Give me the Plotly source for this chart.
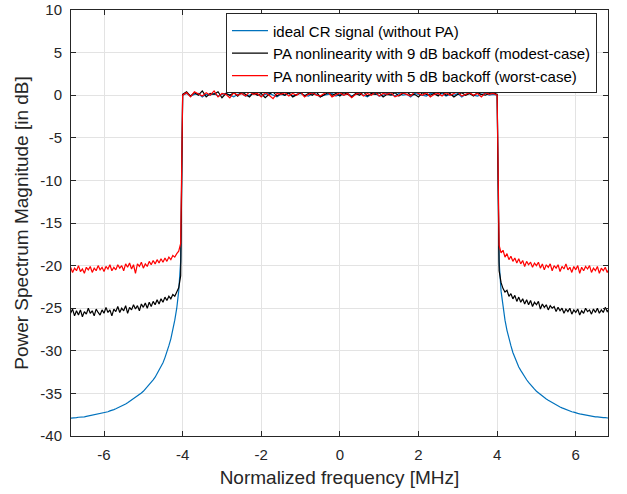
import plotly.graph_objects as go

# frequency grid [MHz]: lower stopband, passband, upper stopband
freq_left = [-6.85, -6.80, -6.75, -6.70, -6.65, -6.60, -6.55, -6.50, -6.45, -6.40,
             -6.35, -6.30, -6.25, -6.20, -6.15, -6.10, -6.05, -6.00, -5.95, -5.90,
             -5.85, -5.80, -5.75, -5.70, -5.65, -5.60, -5.55, -5.50, -5.45, -5.40,
             -5.35, -5.30, -5.25, -5.20, -5.15, -5.10, -5.05, -5.00, -4.95, -4.90,
             -4.85, -4.80, -4.75, -4.70, -4.65, -4.60, -4.55, -4.50, -4.45, -4.40,
             -4.35, -4.30, -4.25, -4.20, -4.15, -4.10, -4.05]
freq_pass = [-4.0, -3.9, -3.8, -3.7, -3.6, -3.5, -3.4, -3.3, -3.2, -3.1,
             -3.0, -2.9, -2.8, -2.7, -2.6, -2.5, -2.4, -2.3, -2.2, -2.1,
             -2.0, -1.9, -1.8, -1.7, -1.6, -1.5, -1.4, -1.3, -1.2, -1.1,
             -1.0, -0.9, -0.8, -0.7, -0.6, -0.5, -0.4, -0.3, -0.2, -0.1,
             0.0, 0.1, 0.2, 0.3, 0.4, 0.5, 0.6, 0.7, 0.8, 0.9,
             1.0, 1.1, 1.2, 1.3, 1.4, 1.5, 1.6, 1.7, 1.8, 1.9,
             2.0, 2.1, 2.2, 2.3, 2.4, 2.5, 2.6, 2.7, 2.8, 2.9,
             3.0, 3.1, 3.2, 3.3, 3.4, 3.5, 3.6, 3.7, 3.8, 3.9,
             4.0]
freq_right = [4.05, 4.10, 4.15, 4.20, 4.25, 4.30, 4.35, 4.40, 4.45, 4.50,
              4.55, 4.60, 4.65, 4.70, 4.75, 4.80, 4.85, 4.90, 4.95, 5.00,
              5.05, 5.10, 5.15, 5.20, 5.25, 5.30, 5.35, 5.40, 5.45, 5.50,
              5.55, 5.60, 5.65, 5.70, 5.75, 5.80, 5.85, 5.90, 5.95, 6.00,
              6.05, 6.10, 6.15, 6.20, 6.25, 6.30, 6.35, 6.40, 6.45, 6.50,
              6.55, 6.60, 6.65, 6.70, 6.75, 6.80, 6.85]

# ideal CR signal (without PA)
ideal_left = [-37.9, -37.9, -37.85, -37.85, -37.8, -37.8, -37.75, -37.75, -37.7, -37.65,
              -37.6, -37.6, -37.55, -37.5, -37.45, -37.4, -37.35, -37.3, -37.2, -37.15,
              -37.05, -37.0, -36.9, -36.8, -36.7, -36.6, -36.5, -36.4, -36.25, -36.1,
              -35.95, -35.8, -35.65, -35.5, -35.3, -35.15, -34.95, -34.75, -34.5, -34.25,
              -34.0, -33.7, -33.4, -33.1, -32.7, -32.3, -31.9, -31.4, -30.8, -30.2,
              -29.4, -28.6, -27.6, -26.4, -25.0, -23.0, -19.5]
ideal_pass = [0.0, 0.2, -0.1, 0.1, 0.2, -0.2, 0.1, 0.0, 0.2, -0.1,
              0.1, 0.2, 0.0, -0.2, 0.1, 0.2, -0.1, 0.0, 0.2, 0.1,
              -0.1, 0.1, 0.2, 0.0, -0.2, 0.1, 0.0, 0.2, -0.1, 0.1,
              0.2, 0.0, -0.1, 0.2, 0.1, -0.2, 0.0, 0.1, 0.2, -0.1,
              0.1, 0.0, 0.2, -0.1, 0.1, 0.2, 0.0, -0.2, 0.1, 0.2,
              -0.1, 0.0, 0.2, 0.1, -0.1, 0.2, 0.0, 0.1, -0.2, 0.2,
              0.1, 0.0, -0.1, 0.2, 0.1, 0.0, 0.2, -0.1, 0.1, 0.0,
              0.2, -0.2, 0.1, 0.2, 0.0, -0.1, 0.1, 0.2, 0.0, 0.1,
              0.0]
ideal_right = [-19.5, -23.0, -25.0, -26.4, -27.6, -28.6, -29.4, -30.2, -30.8, -31.4,
               -31.9, -32.3, -32.7, -33.1, -33.4, -33.7, -34.0, -34.25, -34.5, -34.75,
               -34.95, -35.15, -35.3, -35.5, -35.65, -35.8, -35.95, -36.1, -36.25, -36.4,
               -36.5, -36.6, -36.7, -36.8, -36.9, -37.0, -37.05, -37.15, -37.2, -37.3,
               -37.35, -37.4, -37.45, -37.5, -37.55, -37.6, -37.6, -37.65, -37.7, -37.75,
               -37.75, -37.8, -37.8, -37.85, -37.85, -37.9, -37.9]

# PA nonlinearity, 9 dB backoff
pa9_left = [-25.6, -25.1, -25.9, -25.3, -25.8, -25.2, -26.0, -25.4, -25.7, -25.0,
            -25.6, -25.3, -25.9, -25.1, -25.5, -25.8, -25.2, -25.6, -24.9, -25.5,
            -25.2, -25.9, -25.1, -25.4, -24.8, -25.5, -25.0, -25.3, -24.7, -25.6,
            -24.9, -25.2, -24.6, -25.1, -24.7, -25.3, -24.5, -24.9, -24.4, -25.0,
            -24.3, -24.8, -24.2, -24.6, -24.0, -24.5, -23.9, -24.3, -23.7, -24.1,
            -23.6, -23.9, -23.4, -23.6, -23.1, -22.6, -21.2]
pa9_pass = [0.1, 0.4, -0.1, 0.3, 0.0, 0.5, -0.2, 0.2, 0.1, 0.4,
            -0.3, 0.2, 0.0, 0.3, -0.1, 0.4, 0.1, -0.2, 0.3, 0.0,
            0.2, -0.3, 0.1, 0.4, -0.1, 0.2, 0.0, 0.3, -0.2, 0.1,
            0.3, -0.1, 0.2, 0.0, 0.4, -0.2, 0.1, 0.3, 0.0, 0.2,
            -0.1, 0.3, 0.1, -0.2, 0.2, 0.0, 0.4, -0.1, 0.2, 0.1,
            0.3, -0.2, 0.1, 0.0, 0.3, -0.1, 0.2, 0.4, 0.0, 0.1,
            -0.2, 0.3, 0.1, 0.0, 0.2, -0.1, 0.4, 0.0, 0.2, -0.2,
            0.1, 0.3, 0.0, 0.2, -0.1, 0.3, 0.1, 0.0, 0.2, 0.3,
            0.1]
pa9_right = [-20.6, -22.0, -22.7, -23.1, -22.9, -23.6, -23.3, -23.9, -23.5, -24.2,
             -23.7, -24.3, -23.9, -24.5, -24.0, -24.6, -24.1, -24.8, -24.3, -24.6,
             -24.2, -25.1, -24.5, -24.9, -24.6, -25.2, -24.7, -25.0, -24.8, -25.4,
             -24.9, -25.3, -25.0, -25.6, -25.1, -25.4, -25.0, -25.7, -25.2, -25.5,
             -25.1, -25.8, -25.3, -25.6, -25.0, -25.4, -25.2, -25.7, -25.1, -25.5,
             -25.0, -25.6, -25.2, -25.5, -24.9, -25.4, -25.1]

# PA nonlinearity, 5 dB backoff
pa5_left = [-20.2, -20.8, -20.3, -20.6, -20.0, -20.7, -20.4, -20.9, -20.2, -20.5,
            -20.1, -20.8, -20.3, -20.6, -20.0, -20.5, -20.2, -20.7, -20.1, -20.4,
            -19.9, -20.6, -20.2, -20.5, -19.9, -20.3, -20.0, -20.6, -19.8, -20.2,
            -19.7, -20.4, -19.9, -20.9, -19.8, -20.1, -19.6, -20.3, -19.8, -20.1,
            -19.5, -19.9, -19.4, -19.8, -19.3, -19.7, -19.2, -19.6, -19.1, -19.5,
            -19.0, -19.3, -18.8, -19.0, -18.6, -18.3, -17.4]
pa5_pass = [0.0, 0.3, -0.2, 0.4, 0.1, -0.1, 0.3, 0.0, 0.5, -0.2,
            0.2, 0.1, -0.3, 0.3, 0.0, 0.2, -0.1, 0.4, 0.1, 0.2,
            -0.2, 0.3, 0.0, -0.4, 0.2, 0.1, 0.3, -0.1, 0.2, 0.0,
            0.4, -0.2, 0.1, 0.3, 0.0, -0.1, 0.2, 0.4, -0.2, 0.1,
            0.3, 0.0, 0.2, -0.3, 0.1, 0.3, -0.1, 0.2, 0.0, 0.4,
            -0.1, 0.2, 0.1, 0.3, -0.2, 0.0, 0.3, 0.1, -0.1, 0.4,
            0.2, 0.0, 0.3, -0.2, 0.1, 0.2, -0.1, 0.3, 0.0, 0.2,
            0.4, -0.1, 0.1, 0.3, 0.0, 0.2, -0.2, 0.3, 0.1, 0.2,
            0.0]
pa5_right = [-17.6, -18.5, -18.2, -19.0, -18.6, -19.3, -18.9, -19.5, -19.1, -19.7,
             -19.2, -19.8, -19.4, -20.1, -19.5, -19.9, -19.6, -20.2, -19.7, -20.0,
             -19.6, -20.3, -19.8, -20.5, -19.9, -20.2, -19.8, -20.6, -20.0, -20.3,
             -19.9, -20.7, -20.1, -20.4, -19.8, -20.5, -20.2, -20.8, -20.1, -20.5,
             -20.0, -20.9, -20.2, -20.6, -20.1, -20.4, -20.0, -20.8, -20.3, -20.6,
             -20.1, -20.9, -20.3, -20.6, -20.2, -20.8, -20.4]

x_ticks = [-6, -4, -2, 0, 2, 4, 6]
x_ticklabels = ["-6", "-4", "-2", "0", "2", "4", "6"]
y_ticks = [-40, -35, -30, -25, -20, -15, -10, -5, 0, 5, 10]
y_ticklabels = ["-40", "-35", "-30", "-25", "-20", "-15", "-10", "-5", "0", "5", "10"]

freq = freq_left + freq_pass + freq_right
series = [
    ("ideal CR signal (without PA)", ideal_left + ideal_pass + ideal_right, "#0072BD"),
    ("PA nonlinearity with 9 dB backoff (modest-case)", pa9_left + pa9_pass + pa9_right, "#000000"),
    ("PA nonlinearity with 5 dB backoff (worst-case)", pa5_left + pa5_pass + pa5_right, "#FF0000"),
]

fig = go.Figure()
for name, vals, color in series:
    fig.add_trace(go.Scatter(x=freq, y=vals, mode="lines", name=name,
                             line=dict(color=color, width=1.2)))

font = "Liberation Sans, Arial, sans-serif"
axis_style = dict(showline=True, linecolor="#262626", linewidth=1, mirror="ticks",
                  ticks="inside", ticklen=5, tickcolor="#262626",
                  showgrid=True, gridcolor="#E3E3E3", gridwidth=1, zeroline=False,
                  automargin=False, ticklabelstandoff=5,
                  tickfont=dict(family=font, size=15, color="#262626"))

fig.update_xaxes(range=[-6.84, 6.82], tickvals=x_ticks, ticktext=x_ticklabels,
                 title=dict(text="Normalized frequency [MHz]",
                            font=dict(family=font, size=19, color="#262626"), standoff=8),
                 **axis_style)
fig.update_yaxes(range=[-40, 10], tickvals=y_ticks, ticktext=y_ticklabels,
                 title=dict(text="Power Spectrum Magnitude [in dB]",
                            font=dict(family=font, size=19, color="#262626"), standoff=6),
                 **axis_style)

fig.update_layout(
    width=627, height=494,
    margin=dict(l=71, r=19, t=10, b=58),
    paper_bgcolor="white", plot_bgcolor="white",
    showlegend=True,
    legend=dict(x=0.9795, y=0.992, xanchor="right", yanchor="top",
                bgcolor="white", bordercolor="#262626", borderwidth=1,
                font=dict(family=font, size=15, color="#000000"),
                itemwidth=36, tracegroupgap=0),
)

# drop the page's default body margin so the figure sits at the window corner
fig.write_html("out.html", config={"displayModeBar": False},
               post_script="document.body.style.margin = '0px';")
